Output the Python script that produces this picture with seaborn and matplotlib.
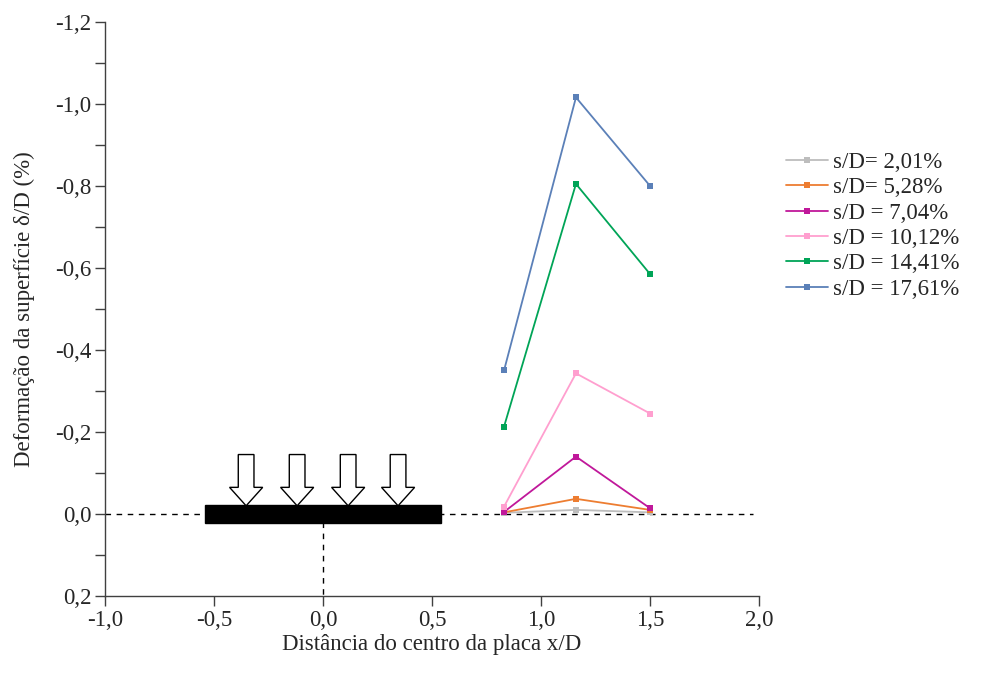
import matplotlib
matplotlib.use("Agg")
import matplotlib.pyplot as plt
import matplotlib.ticker as mticker
from matplotlib.patches import Rectangle, FancyArrow
import numpy as np
import pandas as pd
import seaborn as sns

# Distance from plate centre (x/D) of the three surface gauges
x_pos = [0.83, 1.16, 1.5]

series_labels = ["s/D= 2,01%", "s/D= 5,28%", "s/D = 7,04%",
                 "s/D = 10,12%", "s/D = 14,41%", "s/D = 17,61%"]
sd_201 = [-0.003, -0.010, -0.004]
sd_528 = [-0.004, -0.037, -0.010]
sd_704 = [-0.005, -0.140, -0.014]
sd_1012 = [-0.018, -0.343, -0.245]
sd_1441 = [-0.213, -0.805, -0.585]
sd_1761 = [-0.350, -1.016, -0.800]

colors = ["#BDBDBD", "#ED7D31", "#C0189A", "#FF9FCF", "#00A457", "#5B80B8"]

x_ticks = [-1.0, -0.5, 0.0, 0.5, 1.0, 1.5, 2.0]
y_ticks = [-1.2, -1.0, -0.8, -0.6, -0.4, -0.2, 0.0, 0.2]

# Loaded plate and load arrows
plate_half_width = 0.54
arrow_x = [-0.353, -0.119, 0.115, 0.344]

rows = []
for lab, vals in zip(series_labels, [sd_201, sd_528, sd_704, sd_1012, sd_1441, sd_1761]):
    for xv, yv in zip(x_pos, vals):
        rows.append({"x": xv, "y": yv, "serie": lab})
df = pd.DataFrame(rows)

sns.set_style("white")
plt.rcParams["font.family"] = ["Liberation Serif", "DejaVu Serif"]
plt.rcParams["axes.unicode_minus"] = False

FS = 16.5

fig = plt.figure(figsize=(9.82, 6.73), dpi=100)
ax = fig.add_axes([0.107, 0.1144, 0.666, 0.853])

for lab, col in zip(series_labels, colors):
    sub = df[df["serie"] == lab]
    sns.lineplot(data=sub, x="x", y="y", ax=ax, color=col, marker="s",
                 markersize=5, markeredgewidth=0, linewidth=1.3, label=lab,
                 sort=False)

# Reference lines
ax.plot([-1.0, 1.97], [0, 0], color="black", linestyle=(0, (4, 4)), linewidth=1, zorder=1)
ax.plot([0, 0], [0.02, 0.2], color="black", linestyle=(0, (4, 4)), linewidth=1, zorder=1)

# Plate
ax.add_patch(Rectangle((-plate_half_width, -0.022), 2 * plate_half_width, 0.043,
                       facecolor="black", edgecolor="black", zorder=3))
# Load arrows
for ax_x in arrow_x:
    ax.add_patch(FancyArrow(ax_x, -0.145, 0, 0.125, width=0.072,
                            head_width=0.152, head_length=0.045,
                            length_includes_head=True, facecolor="white",
                            edgecolor="black", linewidth=1, zorder=4))

ax.set_xlim(-1.0, 2.0)
ax.set_ylim(0.2, -1.2)
ax.set_xticks(x_ticks)
ax.set_yticks(y_ticks)
ax.yaxis.set_minor_locator(mticker.MultipleLocator(0.1))
fmt = mticker.FuncFormatter(lambda v, p: f"{v:.1f}".replace(".", ",").replace("-0,0", "0,0"))
ax.xaxis.set_major_formatter(fmt)
ax.yaxis.set_major_formatter(fmt)

for s in ["top", "right"]:
    ax.spines[s].set_visible(False)
for s in ["left", "bottom"]:
    ax.spines[s].set_color("#404040")
    ax.spines[s].set_linewidth(1)

ax.tick_params(axis="both", which="major", direction="out", length=7, width=1,
               color="#404040", labelsize=FS, left=True, bottom=True, pad=3)
ax.tick_params(axis="y", which="minor", direction="out", length=7, width=1,
               color="#404040", left=True)

ax.set_xlabel("Distância do centro da placa x/D", fontsize=FS, labelpad=2)
ax.set_ylabel("Deformação da superfície δ/D (%)", fontsize=FS, labelpad=14)

leg = ax.legend(loc="upper left", bbox_to_anchor=(0.791, 0.788),
                bbox_transform=fig.transFigure, frameon=False, fontsize=FS,
                handlelength=1.85, handletextpad=0.2, labelspacing=0.19,
                borderaxespad=0)

fig.savefig("out.png", dpi=100, facecolor="white")
